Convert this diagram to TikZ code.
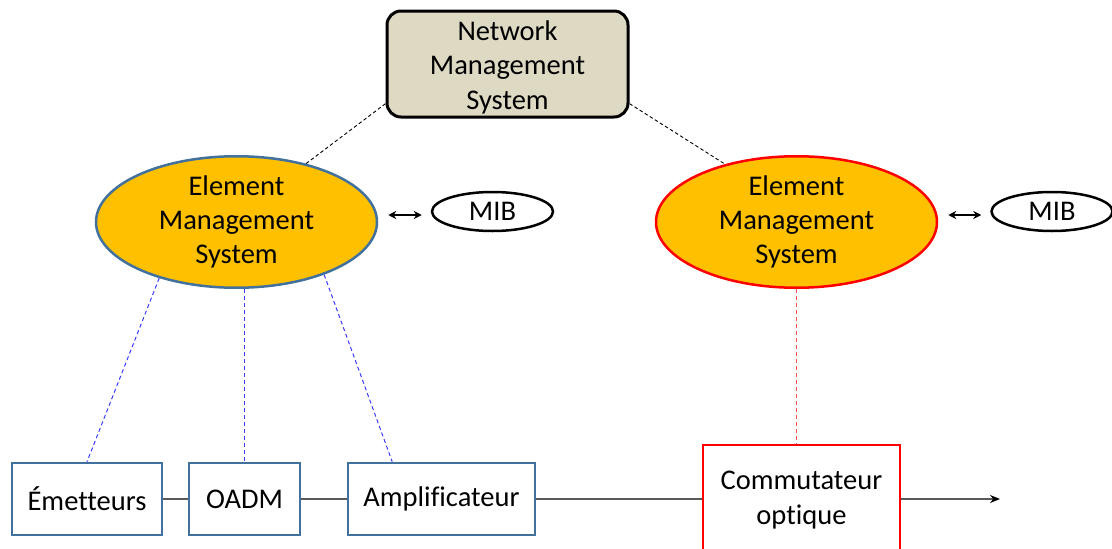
\documentclass[tikz,border=0pt]{standalone}
\usepackage{fontspec}
\setmainfont[Ligatures={NoCommon,NoContextual}]{Carlito}
\usetikzlibrary{shapes.geometric,arrows.meta,calc}
\definecolor{nmsfill}{HTML}{DDD9C3}
\definecolor{emsfill}{HTML}{FFC000}
\definecolor{bluebd}{HTML}{41719C}
\definecolor{dashblue}{HTML}{3A3AFF}
\definecolor{dashred}{HTML}{FF5050}
\definecolor{linegray}{HTML}{595959}
\tikzset{
  txt/.style={font=\fontsize{28.5}{34.3}\selectfont, align=center, text=black},
  nmsbox/.style={txt, draw=black, fill=nmsfill, line width=3pt, rounded corners=14pt, inner sep=0pt},
  emsblue/.style={txt, ellipse, draw=bluebd, fill=emsfill, line width=2.5pt, inner sep=0pt},
  emsred/.style={txt, ellipse, draw=red, fill=emsfill, line width=2.5pt, inner sep=0pt},
  mibnode/.style={txt, ellipse, draw=black, fill=white, line width=2.5pt, inner sep=0pt, minimum width=121pt, minimum height=39pt},
  bluebox/.style={txt, draw=bluebd, fill=white, line width=2.5pt, inner sep=0pt, minimum height=72pt},
  redbox/.style={txt, draw=red, fill=white, line width=2.5pt, inner sep=0pt},
  nmslink/.style={draw=black, line width=0.9pt, dash pattern=on 3.5pt off 2.5pt},
  bluelink/.style={draw=dashblue, line width=1pt, dash pattern=on 4pt off 3pt},
  redlink/.style={draw=dashred, line width=1pt, dash pattern=on 4pt off 3pt},
  chain/.style={draw=linegray, line width=1.2pt},
  mibarrow/.style={draw=black, line width=1.4pt, {Stealth[length=8pt,width=8pt]}-{Stealth[length=8pt,width=8pt]}},
}
\begin{document}
\begin{tikzpicture}[x=1pt,y=-1pt]
\useasboundingbox (0,0) rectangle (1112,549);
\clip (0,0) rectangle (1112,549);
\node[nmsbox, minimum width=241pt, minimum height=106pt] (nms) at (507.5,64) {\rule{0pt}{5pt}\\[-13pt]Network\\Management\\System};
\node[emsblue, minimum width=281pt, minimum height=124pt] (ems1) at (236.5,222) {Element\\Management\\System};
\node[emsred, minimum width=281pt, minimum height=124pt] (ems2) at (796.5,222) {Element\\Management\\System};
\node[mibnode] (mib1) at (492.5,211.5) {MIB};
\node[mibnode] (mib2) at (1052,211.5) {MIB};
\node[bluebox, minimum width=150pt] (emet) at (87,499) {Émetteurs};
\node[bluebox, minimum width=111pt] (oadm) at (244.5,499) {OADM};
\node[bluebox, minimum width=187pt] (amp) at (441.5,499) {Amplificateur};
\node[redbox, minimum width=197pt, minimum height=110pt] (comm) at (801.5,500) {Commutateur\\optique};
\coordinate (outend) at (1000,499);
% NMS to EMS
\draw[nmslink] (nms.198) -- (ems1.40);
\draw[nmslink] (nms.-18) -- (ems2.141);
% EMS to MIB
\draw[mibarrow] ([shift={(10,-7)}]ems1.east) -- ([shift={(-9,3.5)}]mib1.west);
\draw[mibarrow] ([shift={(10,-7)}]ems2.east) -- ([shift={(-9,3.5)}]mib2.west);
% EMS to elements
\draw[bluelink] (ems1.216) -- (emet.north);
\draw[bluelink] (oadm.north |- ems1.south) -- (oadm.north);
\draw[bluelink] (ems1.-31) -- ($(amp.north west)!0.24!(amp.north east)$);
\draw[redlink] (ems2.south) -- (ems2.south |- comm.north);
% chain
\draw[chain] (emet.east) -- (oadm.west);
\draw[chain] (oadm.east) -- (amp.west);
\draw[chain] (amp.east) -- (amp.east -| comm.west);
\draw[chain, -{Stealth[length=10pt,width=8pt,color=black]}] (comm.east |- outend) -- (outend);
\end{tikzpicture}
\end{document}
